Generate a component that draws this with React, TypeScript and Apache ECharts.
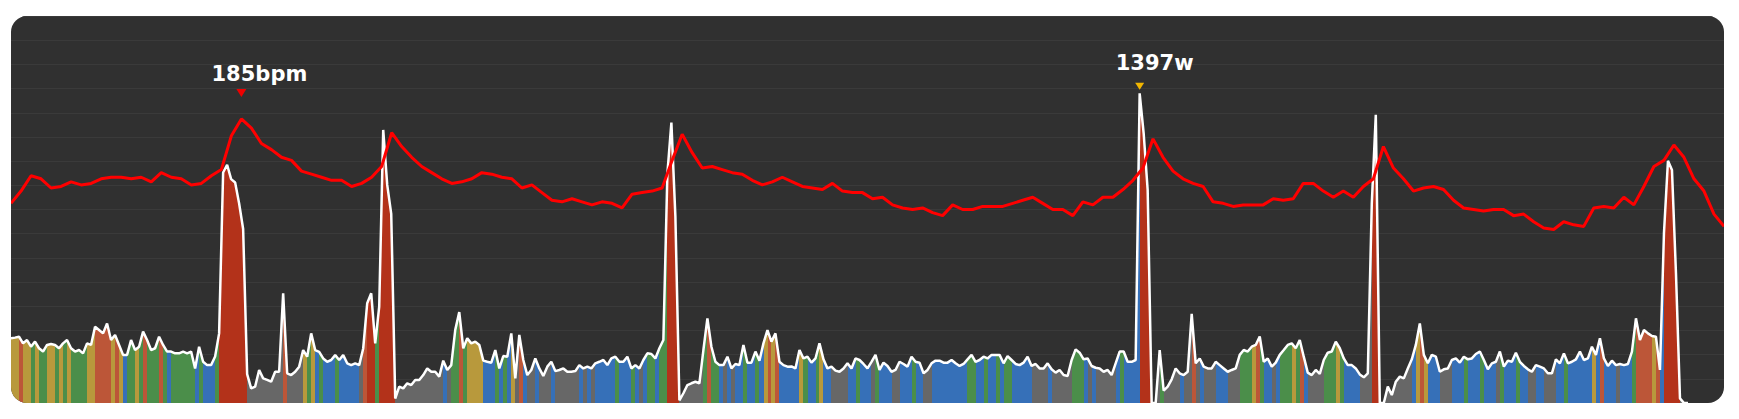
import * as echarts from "echarts";
import { useEffect, useRef } from "react";

// power samples (w), one every 4px of the ride
const power = [
  292, 295, 299, 269, 284, 254, 277, 247, 232, 262, 266, 262, 247, 269, 284, 247, 232, 239, 224, 269,
  262, 344, 329, 314, 359, 284, 307, 262, 217, 217, 284, 239, 254, 322, 284, 239, 247, 299, 262, 232,
  232, 224, 224, 232, 224, 232, 156, 254, 186, 171, 171, 210, 314, 1040, 1075, 1010, 995, 900, 785,
  130, 66, 74, 149, 111, 104, 96, 141, 141, 495, 134, 126, 141, 164, 239, 209, 314, 239, 231, 201,
  186, 194, 216, 194, 216, 179, 171, 179, 171, 246, 450, 495, 269, 435, 1232, 984, 853, 20, 74, 66,
  89, 81, 104, 104, 126, 156, 141, 141,
  119, 191, 149, 171, 330, 410, 247, 292, 269, 277, 262, 191, 186, 182, 239, 156, 212, 209, 314, 111,
  307, 194, 126, 149, 201, 156, 122, 164, 186, 144, 149, 156, 141, 141, 144, 171, 156, 164, 156, 179,
  186, 194, 171, 201, 209, 186, 186, 209, 156, 171, 156, 194, 224, 221,
  201, 247, 284, 1036, 1265, 841, 12, 44, 81, 89, 96, 89, 239, 382, 254, 186, 171, 171, 209, 156,
  176, 171, 262, 182, 182, 232, 191, 269, 329, 277, 314, 186, 171, 164, 165, 156, 239, 201, 209, 182,
  201, 269, 197, 156, 164, 146, 141, 156, 179, 156, 201, 194, 176, 156,
  186, 217, 149, 182, 167, 141, 149, 186, 176, 164, 209, 186, 182, 134, 149, 179, 191, 191, 182, 182,
  194, 179, 167, 176, 197, 217, 186, 194, 209, 201, 217, 217, 217, 179, 212, 194, 176, 171, 182, 209,
  167, 176, 156, 156, 179, 152, 137, 149, 126, 122, 194, 242, 227,
  197, 201, 167, 159, 156, 141, 149, 126, 179, 232, 232, 186, 186, 194, 1397, 1217, 961, 0, 0, 239,
  56, 74, 107, 156, 134, 126, 141, 402, 179, 201, 164, 156, 156, 186, 171, 156, 141, 149, 156, 217,
  239, 232, 254, 262, 300, 186, 201, 164, 182, 217, 239, 262, 269, 247,
  284, 209, 137, 126, 149, 131, 194, 227, 232, 277, 247, 201, 171, 171, 156, 129, 116, 134, 900, 1300,
  0, 0, 74, 36, 96, 119, 111, 156, 197, 262, 359, 217, 179, 217, 209, 141, 152, 156, 194, 201,
  182, 209, 197, 201, 221, 232, 194, 152, 179, 186, 232, 164, 191,
  186, 227, 186, 167, 152, 141, 171, 164, 156, 134, 134, 197, 179, 224, 179, 186, 197, 232, 194, 201,
  254, 217, 292, 201, 167, 191, 171, 176, 171, 176, 232, 382, 284, 329, 314, 302, 299, 149, 766, 1093,
  1051, 585, 21, 0, 0, null, null, null, null, null, null, null, null, null,
];

// power zone of each sample: 1 recovery .. 6 anaerobic
const zones = [
  4, 4, 5, 4, 4, 3, 4, 3, 3, 4, 4, 3, 4, 3, 4, 3, 3, 3, 3, 4,
  4, 5, 5, 5, 5, 4, 5, 4, 2, 3, 3, 4, 3, 5, 3, 3, 3, 5, 3, 2,
  3, 3, 3, 3, 3, 3, 2, 3, 2, 2, 2, 3, 6, 6, 6, 6, 6, 6, 6,
  1, 1, 1, 1, 1, 1, 1, 1, 1, 5, 1, 1, 1, 1, 4, 3, 4, 2, 3, 2,
  2, 2, 3, 2, 2, 2, 2, 2, 1, 5, 6, 6, 3, 6, 6, 6, 6, 1, 1, 1,
  1, 1, 1, 1, 1, 1, 1, 1,
  1, 2, 1, 3, 3, 5, 3, 4, 4, 4, 4, 2, 2, 2, 3, 2, 3, 2, 4, 1,
  5, 2, 1, 1, 2, 1, 1, 1, 2, 1, 1, 1, 1, 1, 1, 2, 1, 2, 1, 2,
  2, 2, 2, 2, 3, 2, 2, 2, 3, 2, 1, 2, 3, 3,
  2, 3, 3, 6, 6, 6, 1, 1, 1, 1, 1, 1, 3, 5, 3, 3, 2, 1, 2, 1,
  2, 2, 3, 2, 2, 3, 2, 4, 5, 4, 5, 2, 2, 2, 2, 2, 4, 3, 2, 2,
  3, 4, 2, 2, 1, 1, 1, 1, 2, 2, 3, 2, 2, 2,
  1, 3, 2, 2, 2, 1, 1, 2, 2, 2, 3, 2, 2, 1, 1, 2, 2, 2, 2, 2,
  2, 2, 2, 2, 3, 3, 2, 2, 3, 2, 2, 3, 2, 3, 3, 2, 2, 2, 2, 2,
  1, 1, 1, 1, 2, 1, 1, 1, 1, 1, 3, 3, 3,
  2, 1, 2, 1, 1, 1, 1, 1, 2, 3, 2, 2, 2, 2, 6, 6, 6, 1, 1, 3,
  1, 1, 1, 1, 2, 1, 1, 5, 1, 2, 1, 1, 1, 2, 2, 2, 1, 1, 1, 3,
  3, 3, 4, 5, 3, 2, 2, 1, 2, 3, 3, 3, 4, 3,
  5, 2, 1, 1, 1, 1, 3, 3, 3, 4, 3, 2, 2, 2, 2, 1, 1, 1, 6, 6,
  1, 1, 1, 1, 1, 1, 1, 1, 2, 4, 5, 4, 2, 2, 2, 1, 1, 1, 2, 2,
  2, 3, 2, 2, 2, 3, 2, 2, 2, 1, 3, 2, 2,
  2, 3, 2, 2, 1, 1, 2, 2, 1, 1, 1, 2, 2, 3, 2, 2, 2, 2, 2, 2,
  4, 2, 5, 2, 2, 2, 1, 2, 2, 2, 3, 5, 5, 5, 5, 4, 5, 2, 6, 6,
  6, 6, 1, 1, 1, 1, 1, 1, 1, 1, 1, 1, 1, 1,
];

// heart rate (bpm), one every 10px of the ride
const heartRate = [
  130, 138, 148, 146, 140, 141, 144, 142, 143, 146, 147, 147, 146, 147, 144, 150, 147, 146, 142, 143,
  148, 152, 174, 185, 179, 169, 165, 160, 158, 151, 149, 147, 145, 145, 141, 143, 147, 154, 176, 167,
  160, 154, 150, 146, 143, 144, 146, 150, 149, 147, 146, 140, 142, 137, 132, 131, 133, 131, 129, 131,
  130, 127, 136, 137, 138, 140, 158, 175, 163, 153, 154, 152, 150, 149, 145, 142, 144, 147, 144, 141,
  140, 139, 143, 138, 137, 137, 133, 134, 129, 127, 126, 127, 124, 122, 129, 126, 126, 128, 128, 128,
  130, 132, 134, 130, 126, 126, 122, 131, 129, 134, 134, 139, 145, 153, 172, 160, 151, 146, 143, 141,
  131, 130, 128, 129, 129, 129, 133, 132, 133, 143, 143, 138, 134, 138, 134, 141, 146, 167, 153, 146,
  138, 140, 141, 139, 132, 127, 126, 125, 126, 126, 122, 123, 118, 114, 113, 118, 116, 115, 127, 128,
  127, 134, 129, 141, 154, 158, 168, 160, 146, 138, 123, 115,
];

const powerTicks = power.map((_, i) => String(i * 4));
const hrTicks = heartRate.map((_, i) => String(i * 10));

const zoneColors = ["", "#676767", "#3670b8", "#4b8e4a", "#b8993c", "#bc5638", "#b3321a"];

const POWER_MAX = 1746;
const HR_MAX = 252;

function zonePieces() {
  const pieces = [];
  let start = 0;
  for (let i = 1; i <= zones.length; i++) {
    if (i === zones.length || zones[i] !== zones[start]) {
      pieces.push({ gte: start - 0.5, lt: i - 0.5, color: zoneColors[zones[start]] });
      start = i;
    }
  }
  return pieces;
}

const labelFont = {
  color: "#ffffff",
  fontSize: 21,
  fontWeight: "bold",
  fontFamily: "DejaVu Sans",
};

export default function App() {
  const chartRef = useRef(null);
  useEffect(() => {
    const chart = echarts.init(chartRef.current, null, { renderer: "svg" });
    chart.setOption({
      animation: false,
      grid: { left: 0, right: 0, top: 0, bottom: 0 },
      xAxis: [
        { type: "category", data: powerTicks, boundaryGap: false, show: false },
        { type: "category", data: hrTicks, boundaryGap: false, show: false },
      ],
      yAxis: [
        {
          type: "value",
          min: 0,
          max: POWER_MAX,
          interval: POWER_MAX / 16,
          axisLine: { show: false },
          axisTick: { show: false },
          axisLabel: { show: false },
          splitLine: { lineStyle: { color: "#3a3a3a", width: 1 } },
        },
        { type: "value", min: 0, max: HR_MAX, show: false, splitLine: { show: false } },
      ],
      visualMap: {
        show: false,
        type: "piecewise",
        dimension: 0,
        seriesIndex: 0,
        pieces: zonePieces(),
      },
      series: [
        {
          type: "line",
          data: power,
          xAxisIndex: 0,
          yAxisIndex: 0,
          symbol: "none",
          lineStyle: { width: 0, opacity: 0 },
          areaStyle: { opacity: 1 },
          silent: true,
        },
        {
          type: "line",
          data: power,
          xAxisIndex: 0,
          yAxisIndex: 0,
          symbol: "none",
          lineStyle: { color: "#ffffff", width: 2.5 },
          markPoint: {
            data: [{ type: "max" }],
            symbol: "triangle",
            symbolRotate: 180,
            symbolSize: [9, 7],
            symbolOffset: [0, -7],
            itemStyle: { color: "#f2b600" },
            label: {
              show: true,
              position: "top",
              offset: [15, -4],
              formatter: (p) => `${p.value}w`,
              ...labelFont,
            },
          },
        },
        {
          type: "line",
          data: heartRate,
          xAxisIndex: 1,
          yAxisIndex: 1,
          symbol: "none",
          lineStyle: { color: "#ff0000", width: 3 },
          markPoint: {
            data: [{ type: "max" }],
            symbol: "triangle",
            symbolRotate: 180,
            symbolSize: [10, 8],
            symbolOffset: [0, -26],
            itemStyle: { color: "#ee0000" },
            label: {
              show: true,
              position: "top",
              offset: [18, 1],
              formatter: (p) => `${p.value}bpm`,
              ...labelFont,
            },
          },
        },
      ],
    });
    return () => {
      chart.dispose();
    };
  }, []);
  return (
    <div
      style={{
        marginLeft: 3,
        marginTop: 8,
        width: 1713,
        height: 387,
        borderRadius: 16,
        overflow: "hidden",
        background: "#303030",
      }}
    >
      <div ref={chartRef} style={{ width: "100%", height: "100%" }} />
    </div>
  );
}
